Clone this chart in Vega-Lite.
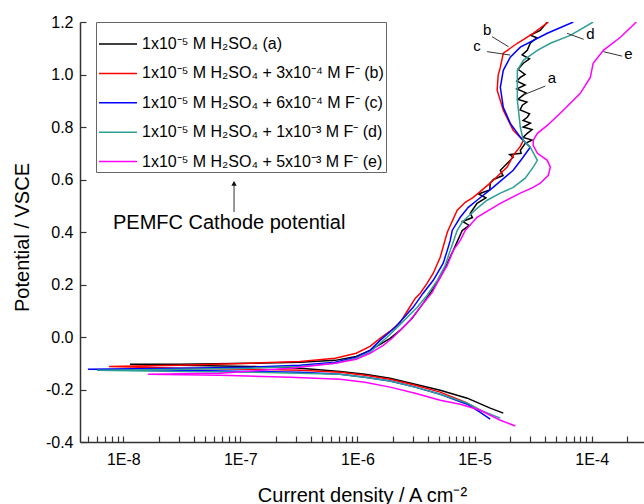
{
  "$schema": "https://vega.github.io/schema/vega-lite/v6.json",
  "width": 564,
  "height": 420,
  "autosize": {"type": "none"},
  "padding": {"left": 80, "top": 22, "right": 0, "bottom": 62},
  "config": {
    "view": {"stroke": null},
    "font": "Liberation Sans",
    "axis": {"labelFont": "Liberation Sans", "titleFont": "Liberation Sans", "labelColor": "#000", "titleColor": "#000", "domainColor": "#333", "tickColor": "#333", "domainWidth": 1.5, "tickWidth": 1.2, "grid": false, "titleFontWeight": "normal", "labelFontSize": 16, "titleFontSize": 20}
  },
  "layer": [
    {
      "mark": {"type": "rule", "color": "#ff4d4d", "strokeDash": [3, 3], "strokeWidth": 1},
      "encoding": {"y": {"datum": 0.6, "type": "quantitative"}}
    },
    {
      "mark": {"type": "rule", "color": "#444", "strokeWidth": 1.5},
      "encoding": {"y": {"datum": 1.2, "type": "quantitative"}}
    },
    {
      "data": {"values": [
        {"s":"a","o":1,"i":1.76e-5,"e":-0.290},{"s":"a","o":2,"i":1.36e-5,"e":-0.271},{"s":"a","o":3,"i":8.66e-6,"e":-0.233},{"s":"a","o":4,"i":5.09e-6,"e":-0.203},{"s":"a","o":5,"i":3.11e-6,"e":-0.180},{"s":"a","o":6,"i":1.90e-6,"e":-0.157},{"s":"a","o":7,"i":1.16e-6,"e":-0.142},{"s":"a","o":8,"i":7.11e-7,"e":-0.131},{"s":"a","o":9,"i":3.24e-7,"e":-0.119},{"s":"a","o":10,"i":1.21e-7,"e":-0.112},{"s":"a","o":11,"i":3.05e-8,"e":-0.108},{"s":"a","o":12,"i":1.14e-8,"e":-0.104},{"s":"a","o":13,"i":3.05e-8,"e":-0.104},{"s":"a","o":14,"i":1.21e-7,"e":-0.100},{"s":"a","o":15,"i":3.24e-7,"e":-0.096},{"s":"a","o":16,"i":6.45e-7,"e":-0.089},{"s":"a","o":17,"i":9.75e-7,"e":-0.074},{"s":"a","o":18,"i":1.28e-6,"e":-0.051},{"s":"a","o":19,"i":1.56e-6,"e":-0.028},{"s":"a","o":20,"i":1.90e-6,"e":-0.005},{"s":"a","o":21,"i":2.32e-6,"e":0.026},{"s":"a","o":22,"i":2.93e-6,"e":0.071},{"s":"a","o":23,"i":3.64e-6,"e":0.128},{"s":"a","o":24,"i":4.35e-6,"e":0.178},{"s":"a","o":25,"i":5.09e-6,"e":0.227},{"s":"a","o":26,"i":5.85e-6,"e":0.281},{"s":"a","o":27,"i":6.58e-6,"e":0.330},{"s":"a","o":28,"i":7.85e-6,"e":0.406},{"s":"a","o":28.5,"i":9.0e-6,"e":0.425},{"s":"a","o":28.7,"i":7.9e-6,"e":0.440},{"s":"a","o":28.9,"i":9.6e-6,"e":0.455},{"s":"a","o":29,"i":9.19e-6,"e":0.471},{"s":"a","o":30,"i":1.05e-5,"e":0.509},{"s":"a","o":30.3,"i":1.25e-5,"e":0.530},{"s":"a","o":30.5,"i":1.08e-5,"e":0.545},{"s":"a","o":30.7,"i":1.35e-5,"e":0.560},{"s":"a","o":31,"i":1.36e-5,"e":0.586},{"s":"a","o":31.5,"i":1.45e-5,"e":0.600},{"s":"a","o":31.7,"i":1.75e-5,"e":0.615},{"s":"a","o":32,"i":1.66e-5,"e":0.635},{"s":"a","o":33,"i":2.14e-5,"e":0.685},{"s":"a","o":33.5,"i":2.0e-5,"e":0.695},{"s":"a","o":33.7,"i":2.5e-5,"e":0.700},{"s":"a","o":34,"i":2.46e-5,"e":0.711},{"s":"a","o":35,"i":2.71e-5,"e":0.738},{"s":"a","o":35.5,"i":3.1e-5,"e":0.750},{"s":"a","o":35.7,"i":2.6e-5,"e":0.760},{"s":"a","o":36,"i":2.82e-5,"e":0.776},{"s":"a","o":36.2,"i":3.1e-5,"e":0.790},{"s":"a","o":36.4,"i":2.6e-5,"e":0.800},{"s":"a","o":36.6,"i":3.0e-5,"e":0.815},{"s":"a","o":36.8,"i":2.6e-5,"e":0.825},{"s":"a","o":37,"i":2.82e-5,"e":0.837},{"s":"a","o":37.3,"i":2.95e-5,"e":0.850},{"s":"a","o":37.6,"i":2.45e-5,"e":0.865},{"s":"a","o":38,"i":2.56e-5,"e":0.883},{"s":"a","o":38.5,"i":2.8e-5,"e":0.895},{"s":"a","o":38.7,"i":2.35e-5,"e":0.905},{"s":"a","o":39,"i":2.46e-5,"e":0.913},{"s":"a","o":39.2,"i":2.75e-5,"e":0.930},{"s":"a","o":39.4,"i":2.3e-5,"e":0.945},{"s":"a","o":39.6,"i":2.7e-5,"e":0.960},{"s":"a","o":39.8,"i":2.3e-5,"e":0.975},{"s":"a","o":40,"i":2.46e-5,"e":0.989},{"s":"a","o":40.3,"i":2.7e-5,"e":1.000},{"s":"a","o":40.6,"i":2.35e-5,"e":1.020},{"s":"a","o":41,"i":2.61e-5,"e":1.043},{"s":"a","o":41.5,"i":2.95e-5,"e":1.060},{"s":"a","o":41.7,"i":2.55e-5,"e":1.075},{"s":"a","o":42,"i":2.82e-5,"e":1.092},{"s":"a","o":43,"i":2.99e-5,"e":1.119},{"s":"a","o":43.5,"i":3.4e-5,"e":1.140},{"s":"a","o":43.7,"i":3.0e-5,"e":1.150},{"s":"a","o":44,"i":3.64e-5,"e":1.168},{"s":"a","o":45,"i":4.18e-5,"e":1.200},

        {"s":"b","o":1,"i":1.12e-5,"e":-0.279},{"s":"b","o":2,"i":8.33e-6,"e":-0.248},{"s":"b","o":3,"i":5.09e-6,"e":-0.210},{"s":"b","o":4,"i":3.11e-6,"e":-0.184},{"s":"b","o":5,"i":1.90e-6,"e":-0.161},{"s":"b","o":6,"i":1.16e-6,"e":-0.146},{"s":"b","o":7,"i":7.11e-7,"e":-0.134},{"s":"b","o":8,"i":3.24e-7,"e":-0.127},{"s":"b","o":9,"i":1.21e-7,"e":-0.123},{"s":"b","o":10,"i":3.05e-8,"e":-0.119},{"s":"b","o":11,"i":7.55e-9,"e":-0.112},{"s":"b","o":12,"i":3.05e-8,"e":-0.108},{"s":"b","o":13,"i":1.21e-7,"e":-0.100},{"s":"b","o":14,"i":3.24e-7,"e":-0.093},{"s":"b","o":15,"i":6.45e-7,"e":-0.081},{"s":"b","o":16,"i":9.75e-7,"e":-0.062},{"s":"b","o":17,"i":1.28e-6,"e":-0.036},{"s":"b","o":18,"i":1.56e-6,"e":-0.005},{"s":"b","o":19,"i":1.90e-6,"e":0.022},{"s":"b","o":20,"i":2.32e-6,"e":0.056},{"s":"b","o":21,"i":2.66e-6,"e":0.098},{"s":"b","o":22,"i":3.11e-6,"e":0.147},{"s":"b","o":23,"i":3.44e-6,"e":0.167},{"s":"b","o":24,"i":3.94e-6,"e":0.205},{"s":"b","o":25,"i":4.44e-6,"e":0.243},{"s":"b","o":26,"i":5.09e-6,"e":0.304},{"s":"b","o":27,"i":5.85e-6,"e":0.399},{"s":"b","o":28,"i":7.11e-6,"e":0.483},{"s":"b","o":29,"i":8.33e-6,"e":0.513},{"s":"b","o":30,"i":9.75e-6,"e":0.532},{"s":"b","o":31,"i":1.36e-5,"e":0.586},{"s":"b","o":32,"i":1.90e-5,"e":0.647},{"s":"b","o":33,"i":2.14e-5,"e":0.692},{"s":"b","o":34,"i":2.46e-5,"e":0.726},{"s":"b","o":35,"i":2.61e-5,"e":0.749},{"s":"b","o":36,"i":2.14e-5,"e":0.787},{"s":"b","o":37,"i":1.76e-5,"e":0.864},{"s":"b","o":38,"i":1.56e-5,"e":0.940},{"s":"b","o":39,"i":1.59e-5,"e":0.997},{"s":"b","o":40,"i":1.66e-5,"e":1.027},{"s":"b","o":41,"i":1.76e-5,"e":1.081},{"s":"b","o":42,"i":2.02e-5,"e":1.100},{"s":"b","o":43,"i":2.32e-5,"e":1.119},{"s":"b","o":44,"i":3.17e-5,"e":1.157},{"s":"b","o":45,"i":4.27e-5,"e":1.200},

        {"s":"c","o":1,"i":1.36e-5,"e":-0.313},{"s":"c","o":2,"i":1.12e-5,"e":-0.287},{"s":"c","o":3,"i":8.66e-6,"e":-0.256},{"s":"c","o":4,"i":5.09e-6,"e":-0.218},{"s":"c","o":5,"i":3.11e-6,"e":-0.191},{"s":"c","o":6,"i":1.90e-6,"e":-0.168},{"s":"c","o":7,"i":1.16e-6,"e":-0.153},{"s":"c","o":8,"i":7.11e-7,"e":-0.142},{"s":"c","o":9,"i":3.24e-7,"e":-0.134},{"s":"c","o":10,"i":1.21e-7,"e":-0.131},{"s":"c","o":11,"i":3.05e-8,"e":-0.127},{"s":"c","o":12,"i":4.99e-9,"e":-0.123},{"s":"c","o":13,"i":3.05e-8,"e":-0.119},{"s":"c","o":14,"i":1.21e-7,"e":-0.115},{"s":"c","o":15,"i":3.24e-7,"e":-0.108},{"s":"c","o":16,"i":6.45e-7,"e":-0.096},{"s":"c","o":17,"i":9.75e-7,"e":-0.077},{"s":"c","o":18,"i":1.28e-6,"e":-0.051},{"s":"c","o":19,"i":1.56e-6,"e":-0.013},{"s":"c","o":20,"i":2.10e-6,"e":0.037},{"s":"c","o":21,"i":2.99e-6,"e":0.113},{"s":"c","o":22,"i":3.64e-6,"e":0.167},{"s":"c","o":23,"i":4.44e-6,"e":0.216},{"s":"c","o":24,"i":5.40e-6,"e":0.281},{"s":"c","o":25,"i":5.85e-6,"e":0.330},{"s":"c","o":26,"i":6.20e-6,"e":0.368},{"s":"c","o":27,"i":6.45e-6,"e":0.406},{"s":"c","o":28,"i":7.55e-6,"e":0.456},{"s":"c","o":29,"i":8.84e-6,"e":0.494},{"s":"c","o":30,"i":1.05e-5,"e":0.521},{"s":"c","o":31,"i":1.44e-5,"e":0.570},{"s":"c","o":32,"i":2.14e-5,"e":0.635},{"s":"c","o":33,"i":2.56e-5,"e":0.681},{"s":"c","o":34,"i":2.99e-5,"e":0.723},{"s":"c","o":35,"i":2.46e-5,"e":0.761},{"s":"c","o":36,"i":2.02e-5,"e":0.814},{"s":"c","o":37,"i":1.76e-5,"e":0.875},{"s":"c","o":38,"i":1.66e-5,"e":0.951},{"s":"c","o":39,"i":1.76e-5,"e":1.016},{"s":"c","o":40,"i":2.02e-5,"e":1.066},{"s":"c","o":41,"i":2.46e-5,"e":1.104},{"s":"c","o":42,"i":4.18e-5,"e":1.157},{"s":"c","o":43,"i":6.98e-5,"e":1.200},

        {"s":"d","o":1,"i":1.66e-5,"e":-0.309},{"s":"d","o":2,"i":1.12e-5,"e":-0.279},{"s":"d","o":3,"i":8.66e-6,"e":-0.252},{"s":"d","o":4,"i":5.09e-6,"e":-0.218},{"s":"d","o":5,"i":3.11e-6,"e":-0.191},{"s":"d","o":6,"i":1.90e-6,"e":-0.168},{"s":"d","o":7,"i":1.16e-6,"e":-0.153},{"s":"d","o":8,"i":7.11e-7,"e":-0.142},{"s":"d","o":9,"i":3.24e-7,"e":-0.138},{"s":"d","o":10,"i":1.21e-7,"e":-0.134},{"s":"d","o":11,"i":3.05e-8,"e":-0.131},{"s":"d","o":12,"i":5.96e-9,"e":-0.127},{"s":"d","o":13,"i":3.05e-8,"e":-0.123},{"s":"d","o":14,"i":1.21e-7,"e":-0.119},{"s":"d","o":15,"i":3.24e-7,"e":-0.112},{"s":"d","o":16,"i":6.45e-7,"e":-0.100},{"s":"d","o":17,"i":9.75e-7,"e":-0.081},{"s":"d","o":18,"i":1.28e-6,"e":-0.058},{"s":"d","o":19,"i":1.56e-6,"e":-0.024},{"s":"d","o":20,"i":1.79e-6,"e":-0.001},{"s":"d","o":21,"i":2.32e-6,"e":0.048},{"s":"d","o":22,"i":3.24e-6,"e":0.113},{"s":"d","o":23,"i":3.94e-6,"e":0.159},{"s":"d","o":24,"i":4.80e-6,"e":0.216},{"s":"d","o":25,"i":5.62e-6,"e":0.273},{"s":"d","o":26,"i":6.20e-6,"e":0.330},{"s":"d","o":27,"i":7.11e-6,"e":0.406},{"s":"d","o":28,"i":7.85e-6,"e":0.437},{"s":"d","o":29,"i":8.66e-6,"e":0.456},{"s":"d","o":30,"i":1.05e-5,"e":0.490},{"s":"d","o":31,"i":1.28e-5,"e":0.521},{"s":"d","o":32,"i":1.66e-5,"e":0.548},{"s":"d","o":33,"i":2.14e-5,"e":0.570},{"s":"d","o":34,"i":2.71e-5,"e":0.605},{"s":"d","o":35,"i":3.17e-5,"e":0.647},{"s":"d","o":36,"i":3.44e-5,"e":0.673},{"s":"d","o":37,"i":2.99e-5,"e":0.723},{"s":"d","o":38,"i":2.61e-5,"e":0.749},{"s":"d","o":39,"i":2.46e-5,"e":0.799},{"s":"d","o":40,"i":2.32e-5,"e":0.902},{"s":"d","o":41,"i":2.32e-5,"e":1.016},{"s":"d","o":42,"i":2.61e-5,"e":1.054},{"s":"d","o":43,"i":3.44e-5,"e":1.092},{"s":"d","o":44,"i":4.44e-5,"e":1.119},{"s":"d","o":45,"i":6.58e-5,"e":1.149},{"s":"d","o":46,"i":1.03e-4,"e":1.200},

        {"s":"e","o":1,"i":2.23e-5,"e":-0.339},{"s":"e","o":2,"i":1.66e-5,"e":-0.317},{"s":"e","o":3,"i":1.12e-5,"e":-0.279},{"s":"e","o":4,"i":7.55e-6,"e":-0.256},{"s":"e","o":5,"i":5.09e-6,"e":-0.241},{"s":"e","o":6,"i":3.11e-6,"e":-0.214},{"s":"e","o":7,"i":1.90e-6,"e":-0.191},{"s":"e","o":8,"i":1.16e-6,"e":-0.172},{"s":"e","o":9,"i":7.11e-7,"e":-0.161},{"s":"e","o":10,"i":2.66e-7,"e":-0.153},{"s":"e","o":11,"i":6.70e-8,"e":-0.146},{"s":"e","o":12,"i":1.63e-8,"e":-0.142},{"s":"e","o":13,"i":6.70e-8,"e":-0.138},{"s":"e","o":14,"i":2.66e-7,"e":-0.119},{"s":"e","o":15,"i":6.45e-7,"e":-0.100},{"s":"e","o":16,"i":9.75e-7,"e":-0.085},{"s":"e","o":17,"i":1.28e-6,"e":-0.062},{"s":"e","o":18,"i":1.66e-6,"e":-0.032},{"s":"e","o":19,"i":1.98e-6,"e":-0.005},{"s":"e","o":20,"i":2.32e-6,"e":0.026},{"s":"e","o":21,"i":2.82e-6,"e":0.064},{"s":"e","o":22,"i":3.64e-6,"e":0.128},{"s":"e","o":23,"i":4.35e-6,"e":0.170},{"s":"e","o":24,"i":5.09e-6,"e":0.227},{"s":"e","o":25,"i":5.85e-6,"e":0.273},{"s":"e","o":26,"i":6.58e-6,"e":0.330},{"s":"e","o":27,"i":7.55e-6,"e":0.368},{"s":"e","o":28,"i":8.33e-6,"e":0.406},{"s":"e","o":29,"i":1.05e-5,"e":0.456},{"s":"e","o":30,"i":1.66e-5,"e":0.509},{"s":"e","o":31,"i":2.46e-5,"e":0.548},{"s":"e","o":32,"i":3.17e-5,"e":0.570},{"s":"e","o":33,"i":3.64e-5,"e":0.586},{"s":"e","o":34,"i":4.27e-5,"e":0.616},{"s":"e","o":35,"i":4.44e-5,"e":0.647},{"s":"e","o":36,"i":4.18e-5,"e":0.673},{"s":"e","o":37,"i":3.44e-5,"e":0.700},{"s":"e","o":38,"i":3.17e-5,"e":0.730},{"s":"e","o":39,"i":3.17e-5,"e":0.749},{"s":"e","o":40,"i":3.44e-5,"e":0.776},{"s":"e","o":41,"i":4.18e-5,"e":0.806},{"s":"e","o":42,"i":5.73e-5,"e":0.864},{"s":"e","o":43,"i":8.00e-5,"e":0.928},{"s":"e","o":44,"i":9.75e-5,"e":0.989},{"s":"e","o":45,"i":1.03e-4,"e":1.043},{"s":"e","o":46,"i":1.26e-4,"e":1.092},{"s":"e","o":47,"i":1.76e-4,"e":1.142},{"s":"e","o":48,"i":2.41e-4,"e":1.200}
      ]},
      "mark": {"type": "line", "strokeWidth": 1.5, "clip": true},
      "encoding": {
        "x": {
          "field": "i", "type": "quantitative",
          "scale": {"type": "log", "domain": [4.27e-9, 2.8e-4], "nice": false},
          "title": "Current density / A cm⁻²",
          "axis": {
            "values": [5e-9,6e-9,7e-9,8e-9,9e-9,1e-8,2e-8,3e-8,4e-8,5e-8,6e-8,7e-8,8e-8,9e-8,1e-7,2e-7,3e-7,4e-7,5e-7,6e-7,7e-7,8e-7,9e-7,1e-6,2e-6,3e-6,4e-6,5e-6,6e-6,7e-6,8e-6,9e-6,1e-5,2e-5,3e-5,4e-5,5e-5,6e-5,7e-5,8e-5,9e-5,1e-4,2e-4],
            "labelExpr": "abs(log(datum.value)/LN10 - round(log(datum.value)/LN10)) < 0.001 ? '1E' + round(log(datum.value)/LN10) : ''",
            "tickSize": -6,
            "labelPadding": 15,
            "labelFlush": false,
            "labelOverlap": false,
            "titleY": 43.5
          }
        },
        "y": {
          "field": "e", "type": "quantitative",
          "scale": {"domain": [-0.4, 1.2], "nice": false, "zero": false},
          "title": "Potential / VSCE",
          "axis": {
            "values": [-0.4,-0.3,-0.2,-0.1,0,0.1,0.2,0.3,0.4,0.5,0.6,0.7,0.8,0.9,1.0,1.1,1.2],
            "labelExpr": "abs(round(datum.value*10)) % 2 == 0 ? replace(format(datum.value, '.1f'), '−', '-') : ''",
            "tickSize": -6,
            "labelPadding": 13,
            "labelOverlap": false,
            "labelFlush": false,
            "titleX": -52,
            "titleY": 215,
            "titleBaseline": "alphabetic"
          }
        },
        "color": {
          "field": "s", "type": "nominal",
          "scale": {"domain": ["a","b","c","d","e"], "range": ["#000000","#ff0000","#0000ff","#2e9e96","#ff00ff"]},
          "legend": {
            "orient": "none", "legendX": 16, "legendY": 0, "title": null,
            "strokeColor": "#666", "fillColor": "white", "padding": 2,
            "symbolType": "stroke", "symbolSize": 1444, "symbolStrokeWidth": 1.5,
            "labelFontSize": 16, "labelFont": "Liberation Sans", "labelColor": "#000", "rowPadding": 1.4, "labelOffset": 4, "labelLimit": 400,
            "labelExpr": "datum.label == 'a' ? '1x10⁻⁵ M H₂SO₄ (a)' : datum.label == 'b' ? '1x10⁻⁵ M H₂SO₄ + 3x10⁻⁴ M F⁻ (b)' : datum.label == 'c' ? '1x10⁻⁵ M H₂SO₄ + 6x10⁻⁴ M F⁻ (c)' : datum.label == 'd' ? '1x10⁻⁵ M H₂SO₄ + 1x10⁻³ M F⁻ (d)' : '1x10⁻⁵ M H₂SO₄ + 5x10⁻³ M F⁻ (e)'"
          }
        },
        "order": {"field": "o", "type": "quantitative"}
      }
    },
    {
      "data": {"values": [
        {"x": 1.41e-5, "x2": 1.95e-5, "y": 1.144, "y2": 1.106},
        {"x": 1.28e-5, "x2": 2.02e-5, "y": 1.087, "y2": 1.074},
        {"x": 6.17e-5, "x2": 8.55e-5, "y": 1.157, "y2": 1.134},
        {"x": 1.26e-4, "x2": 1.82e-4, "y": 1.087, "y2": 1.070},
        {"x": 2.61e-5, "x2": 4.02e-5, "y": 0.922, "y2": 0.956},
        {"x": 8.83e-8, "x2": 8.83e-8, "y": 0.476, "y2": 0.59}
      ]},
      "mark": {"type": "rule", "color": "#333", "strokeWidth": 1},
      "encoding": {
        "x": {"field": "x", "type": "quantitative"},
        "x2": {"field": "x2"},
        "y": {"field": "y", "type": "quantitative"},
        "y2": {"field": "y2"}
      }
    },
    {
      "data": {"values": [{"x": 8.83e-8, "y": 0.585}]},
      "mark": {"type": "point", "shape": "triangle-up", "filled": true, "color": "#111", "size": 30, "opacity": 1},
      "encoding": {
        "x": {"field": "x", "type": "quantitative"},
        "y": {"field": "y", "type": "quantitative"}
      }
    },
    {
      "data": {"values": [
        {"x": 1.28e-5, "y": 1.170, "t": "b"},
        {"x": 1.05e-5, "y": 1.109, "t": "c"},
        {"x": 9.75e-5, "y": 1.154, "t": "d"},
        {"x": 2.06e-4, "y": 1.078, "t": "e"},
        {"x": 4.59e-5, "y": 0.987, "t": "a"}
      ]},
      "mark": {"type": "text", "fontSize": 15, "font": "Liberation Sans", "color": "#000", "align": "center", "baseline": "middle"},
      "encoding": {
        "x": {"field": "x", "type": "quantitative"},
        "y": {"field": "y", "type": "quantitative"},
        "text": {"field": "t"}
      }
    },
    {
      "data": {"values": [{"x": 8.17e-9, "y": 0.434, "t": "PEMFC Cathode potential"}]},
      "mark": {"type": "text", "fontSize": 20, "font": "Liberation Sans", "color": "#000", "align": "left", "baseline": "middle"},
      "encoding": {
        "x": {"field": "x", "type": "quantitative"},
        "y": {"field": "y", "type": "quantitative"},
        "text": {"field": "t"}
      }
    }
  ]
}
